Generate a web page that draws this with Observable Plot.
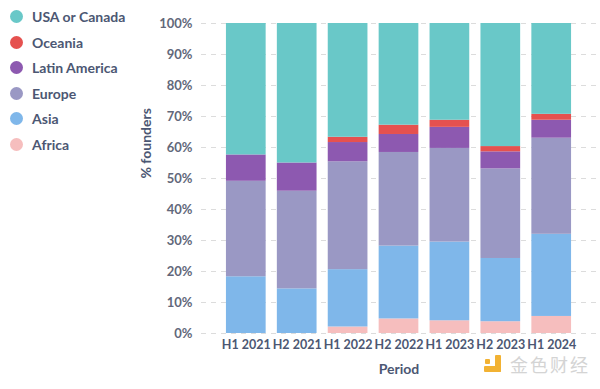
<!DOCTYPE html>
<html>
<head>
<meta charset="utf-8">
<script src="https://cdn.jsdelivr.net/npm/d3@7"></script>
<script src="https://cdn.jsdelivr.net/npm/@observablehq/plot@0.6"></script>
<style>
  html, body { margin: 0; padding: 0; background: #fff; }
  #wrap { position: relative; width: 600px; height: 389px; overflow: hidden; font-family: Lato, "Noto Sans", sans-serif; }
  #chart { position: absolute; left: 0; top: 0; }
  #legend { position: absolute; left: 10px; top: 4px; }
  .li { display: flex; align-items: center; height: 25.5px; font-size: 14px; font-weight: 700; color: #4c5773; }
  .dot { width: 13px; height: 13px; border-radius: 50%; margin-right: 9px; }
  #wm { position: absolute; left: 484px; top: 355px; display: flex; align-items: center; }
  #wm .logo { width: 18px; height: 18px; position: relative; margin-right: 8px; }
  #wm .txt { font-family: "Noto Sans CJK SC", sans-serif; font-size: 18px; line-height: 18px; color: #d4d4d4; letter-spacing: 2px; }
</style>
</head>
<body>
<div id="wrap">
  <div id="chart"></div>
  <div id="legend"></div>
  <div id="wm">
    <div class="logo">
      <div style="position:absolute;left:11px;top:0;width:6px;height:17px;background:#F2B233;border-radius:1px"></div>
      <div style="position:absolute;left:0;top:11px;width:17px;height:6px;background:#F2B233;border-radius:1px"></div>
      <div style="position:absolute;left:1px;top:4px;width:5px;height:5px;background:#F2B233;border-radius:1px"></div>
    </div>
    <div class="txt">金色财经</div>
  </div>
</div>
<script>
const periods = ["H1 2021", "H2 2021", "H1 2022", "H2 2022", "H1 2023", "H2 2023", "H1 2024"];
// stacking order: bottom to top
const regions = ["Africa", "Asia", "Europe", "Latin America", "Oceania", "USA or Canada"];
const colors = ["#F6BEBE", "#7FB7EA", "#9A98C4", "#8D59B0", "#E5514F", "#69C8C8"];

const africa   = [0, 0, 2.1, 4.7, 4.1, 3.8, 5.5];
const asia     = [18.3, 14.4, 18.5, 23.5, 25.4, 20.4, 26.5];
const europe   = [30.8, 31.5, 34.8, 30.2, 30.2, 28.9, 31.0];
const latam    = [8.5, 9.1, 6.2, 5.8, 6.8, 5.5, 5.8];
const oceania  = [0, 0, 1.7, 3.0, 2.3, 1.7, 1.9];
const usa      = [42.4, 45.0, 36.7, 32.8, 31.2, 39.7, 29.3];

const yTicks = [0, 10, 20, 30, 40, 50, 60, 70, 80, 90, 100];

const series = [africa, asia, europe, latam, oceania, usa];
const data = [];
regions.forEach((r, i) => periods.forEach((p, j) => data.push({period: p, region: r, value: series[i][j]})));

const chart = Plot.plot({
  width: 600,
  height: 389,
  marginLeft: 201,
  marginRight: 4,
  marginTop: 23,
  marginBottom: 56,
  style: {fontFamily: "Lato, sans-serif", background: "transparent"},
  x: {domain: periods, paddingInner: 0.22, paddingOuter: 0.49, round: false, label: null},
  y: {domain: [0, 100], label: null},
  color: {domain: regions, range: colors},
  marks: [
    Plot.gridY(yTicks, {stroke: "#dcdcdc", strokeOpacity: 1, strokeDasharray: "5,5"}),
    Plot.barY(data, Plot.stackY({x: "period", y: "value", fill: "region", order: regions})),
    Plot.axisY(yTicks, {tickSize: 0, tickPadding: 9, tickFormat: d => d + "%", fontSize: 13, fontWeight: 700, fill: "#62687a", label: null}),
    Plot.axisX({tickSize: 0, tickPadding: 7, fontSize: 12.5, fontWeight: 700, fill: "#4c5773", label: null}),
    Plot.text(["% founders"], {frameAnchor: "left", dx: -55, rotate: -90, fontSize: 14, fontWeight: 700, fill: "#4c5773"}),
    Plot.text(["Period"], {frameAnchor: "bottom", dy: 40, fontSize: 14, fontWeight: 700, fill: "#4c5773"})
  ]
});
document.getElementById("chart").appendChild(chart);

const legend = document.getElementById("legend");
[...regions].reverse().forEach((r) => {
  const i = regions.indexOf(r);
  const row = document.createElement("div");
  row.className = "li";
  const dot = document.createElement("div");
  dot.className = "dot";
  dot.style.background = colors[i];
  const t = document.createElement("span");
  t.textContent = r;
  row.appendChild(dot);
  row.appendChild(t);
  legend.appendChild(row);
});
</script>
</body>
</html>
